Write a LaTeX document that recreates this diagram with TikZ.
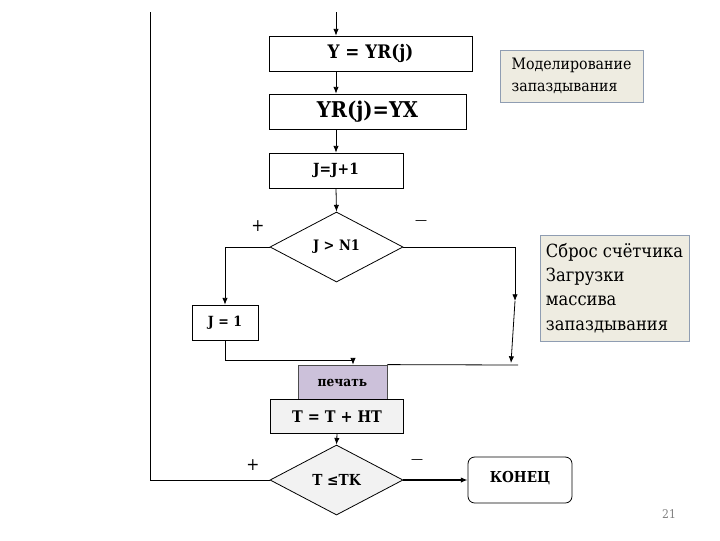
\documentclass[tikz,border=0pt]{standalone}
\usepackage{fontspec}
\IfFontExistsTF{DejaVu Serif Condensed}{\setmainfont{DejaVu Serif Condensed}}{\setmainfont{DejaVu Serif}}
\usetikzlibrary{shapes.geometric,arrows.meta}
\definecolor{notefill}{HTML}{EEECE1}
\definecolor{noteline}{HTML}{8F9DB2}
\definecolor{printfill}{HTML}{CCC1DA}
\definecolor{lightfill}{HTML}{F2F2F2}
\begin{document}
\begin{tikzpicture}[x=0.75pt,y=-0.75pt,
  box/.style={draw, inner sep=0pt, font=\bfseries, line width=0.6pt},
  dia/.style={draw, diamond, inner sep=0pt, font=\bfseries, line width=0.6pt,
    minimum width=99.75pt, minimum height=52.5pt},
  note/.style={draw=noteline, fill=notefill, inner sep=0pt, align=left, line width=0.6pt},
  arr/.style={-{Latex[length=5pt,width=4pt]}, line width=0.6pt},
  ln/.style={line width=0.6pt},
  sign/.style={inner sep=0pt, font=\fontsize{13}{13}\selectfont}
]
\useasboundingbox (0,0) rectangle (720,540);

\node[box, minimum width=152.25pt, minimum height=26.25pt, font=\bfseries\fontsize{14}{14}\selectfont] (b1) at (370.5,53.5) {Y = YR(j)};
\node[box, minimum width=147.75pt, minimum height=26.25pt, font=\bfseries\fontsize{16.3}{16.3}\selectfont] (b2) at (367.5,111.5) {YR(j)=YX};
\node[box, minimum width=100.5pt, minimum height=26.25pt, font=\bfseries\fontsize{11.5}{11.5}\selectfont] (b3) at (336,170.5) {J=J+1};
\node[dia, font=\bfseries\fontsize{10.8}{10.8}\selectfont] (d1) at (336.5,247) {J > N1};
\node[box, minimum width=49.5pt, minimum height=26.25pt, font=\bfseries\fontsize{10.5}{10.5}\selectfont] (j1) at (225,322.5) {J = 1};
\node[box, fill=printfill, draw=black!70, minimum width=66.75pt, minimum height=26.25pt, font=\bfseries\fontsize{10.2}{10.2}\selectfont] (p) at (342.5,382.5) {печать};
\node[box, fill=lightfill, minimum width=99.75pt, minimum height=25.5pt, font=\bfseries\fontsize{12}{12}\selectfont] (t) at (337,416.5) {T = T + HT};
\node[dia, fill=lightfill, font=\bfseries\fontsize{11.4}{11.4}\selectfont] (d2) at (336.5,480) {T ≤TK};
\node[box, rounded corners=5pt, minimum width=78pt, minimum height=34.5pt, font=\bfseries\fontsize{11.3}{11.3}\selectfont] (k) at (520,480) {\raisebox{5pt}{КОНЕЦ}};

\node[note, minimum width=107.25pt, minimum height=39pt, font=\fontsize{11.8}{17}\selectfont] (n1) at (571.5,76) {Моделирование\\запаздывания};
\node[note, minimum width=111.75pt, minimum height=79.5pt, font=\fontsize{13.6}{18.2}\selectfont] (n2) at (614.5,288) {Сброс счётчика\\Загрузки\\массива\\запаздывания};

\node[sign] (s1) at (258,226) {+};
\node[sign, font=\fontsize{10}{10}\selectfont] (s2) at (421,223) {—};
\node[sign] (s3) at (253,465) {+};
\node[sign, font=\fontsize{10}{10}\selectfont] (s4) at (417,462) {—};
\node[inner sep=0pt, text=black!50, font=\fontsize{9}{9}\selectfont] (pg) at (669,514) {21};

\coordinate (top) at (336,12);
\coordinate (ltop) at (150,12);
\coordinate (r1) at (515,301);
\coordinate (r2) at (511,363);
\coordinate (r3) at (518,365);
\coordinate (m) at (353,360);

\draw[arr] (top) -- (top|-b1.north);
\draw[arr] (b1.south-|top) -- (top|-b2.north);
\draw[arr] (b2.south-|top) -- (b3.north);
\draw[arr] (b3.south) -- (d1.north);
\draw[arr] (d1.west) -| (j1.north);
\draw[arr] (d1.east) -| (r1);
\draw[arr] (r1) -- (r2);
\draw[ln] (p.north east) -- (r3);
\draw[arr] (j1.south) |- (m) -- (m|-p.north);
\draw[arr] (t.south) -- (d2.north);
\draw[ln] (d2.west) -| (ltop);
\draw[-{Latex[length=5pt,width=4pt]}, line width=1.6pt] (d2.east) -- (k.west);
\end{tikzpicture}
\end{document}
